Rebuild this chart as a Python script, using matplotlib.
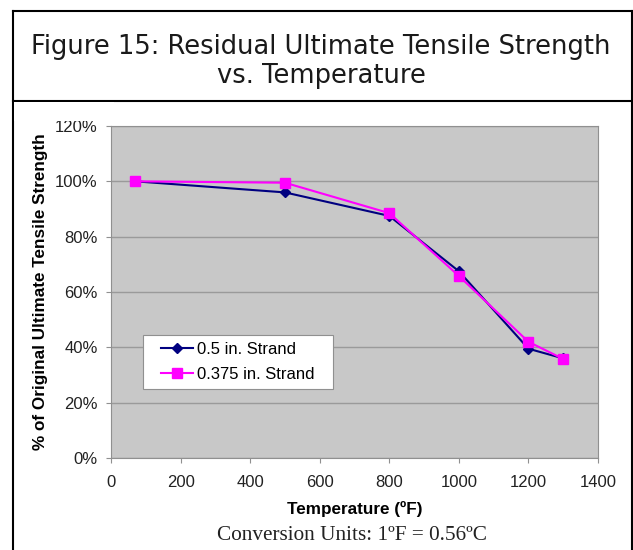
import matplotlib
matplotlib.use('Agg')
import matplotlib.pyplot as plt
from matplotlib.ticker import FuncFormatter
from matplotlib.lines import Line2D
from matplotlib.patches import Rectangle

temps = [70, 500, 800, 1000, 1200, 1300]
strand_05 = [100, 96.0, 87.5, 67.5, 39.5, 36.0]
strand_0375 = [100, 99.5, 88.5, 65.8, 42.0, 35.8]

fig = plt.figure(figsize=(6.33, 5.5), dpi=100)
fig.patch.set_facecolor('white')

ax = fig.add_axes([111/633, 1-458/550, 487/633, 332/550])
ax.set_facecolor('#C8C8C8')
ax.plot(temps, strand_05, color='#000080', marker='D', markersize=5, lw=1.5, label='0.5 in. Strand')
ax.plot(temps, strand_0375, color='#FF00FF', marker='s', markersize=7, lw=1.5, label='0.375 in. Strand')

ax.set_xlim(0, 1400)
ax.set_ylim(0, 120)
ax.set_xticks(range(0, 1401, 200))
ax.set_yticks(range(0, 121, 20))
ax.yaxis.set_major_formatter(FuncFormatter(lambda v, p: '%d%%' % v))
ax.grid(axis='y', color='#9A9A9A', lw=1)
ax.set_axisbelow(True)
for s in ax.spines.values():
    s.set_color('#909090')
ax.tick_params(labelsize=12, colors='#222222', length=3.5, color='#909090')
ax.tick_params(axis='x', pad=9)
ax.tick_params(axis='y', pad=6)
for lab in ax.get_xticklabels() + ax.get_yticklabels():
    lab.set_family('Liberation Sans')

ax.set_xlabel('Temperature (ºF)', fontsize=12.3, fontweight='bold', family='Liberation Sans')
ax.xaxis.label.set_va('center')
ax.xaxis.set_label_coords(0.5, (458-509)/332)
ax.set_ylabel('% of Original Ultimate Tensile Strength', fontsize=12.3, fontweight='bold',
              family='Liberation Sans')
ax.yaxis.label.set_va('center')
ax.yaxis.set_label_coords((41-111)/487, 0.5)

# legend box (white, grey border) with the legend entries inside
ax.add_patch(Rectangle(((143-111)/487, (458-389)/332), 190/487, 54/332, transform=ax.transAxes,
                       facecolor='white', edgecolor='#909090', lw=0.8, zorder=4.5))
leg = ax.legend(loc='upper left', bbox_to_anchor=((161-111)/487, (458-342)/332), frameon=False,
                handlelength=1.9, handletextpad=0.25, borderpad=0, borderaxespad=0,
                labelspacing=0.58, prop={'family': 'Liberation Sans', 'size': 12})
leg.set_zorder(5)

# outer frame and title box
fig.add_artist(Rectangle((14/633, 1-121/550), 100/633, 19/550, transform=fig.transFigure,
                         facecolor='white', edgecolor='none', zorder=5))
fig.add_artist(Line2D([13/633, 13/633], [0, 1-11/550], color='black', lw=1.5))
fig.add_artist(Line2D([632/633, 632/633], [0, 1-11/550], color='black', lw=1.5))
fig.add_artist(Line2D([13/633, 632/633], [1-11/550, 1-11/550], color='black', lw=1.5))
fig.add_artist(Line2D([13/633, 632/633], [1-101/550, 1-101/550], color='black', lw=1.5))

fig.text(321/633, 1-47/550, 'Figure 15: Residual Ultimate Tensile Strength', ha='center', va='center',
         fontsize=18.5, family='DejaVu Sans', color='#1a1a1a')
fig.text(321/633, 1-76/550, 'vs. Temperature', ha='center', va='center',
         fontsize=18.5, family='DejaVu Sans', color='#1a1a1a')

fig.text(352/633, 1-535/550, 'Conversion Units: 1ºF = 0.56ºC', ha='center', va='center',
         fontsize=15.3, family='Liberation Serif', color='#222222')

fig.savefig('out.png', dpi=100)
